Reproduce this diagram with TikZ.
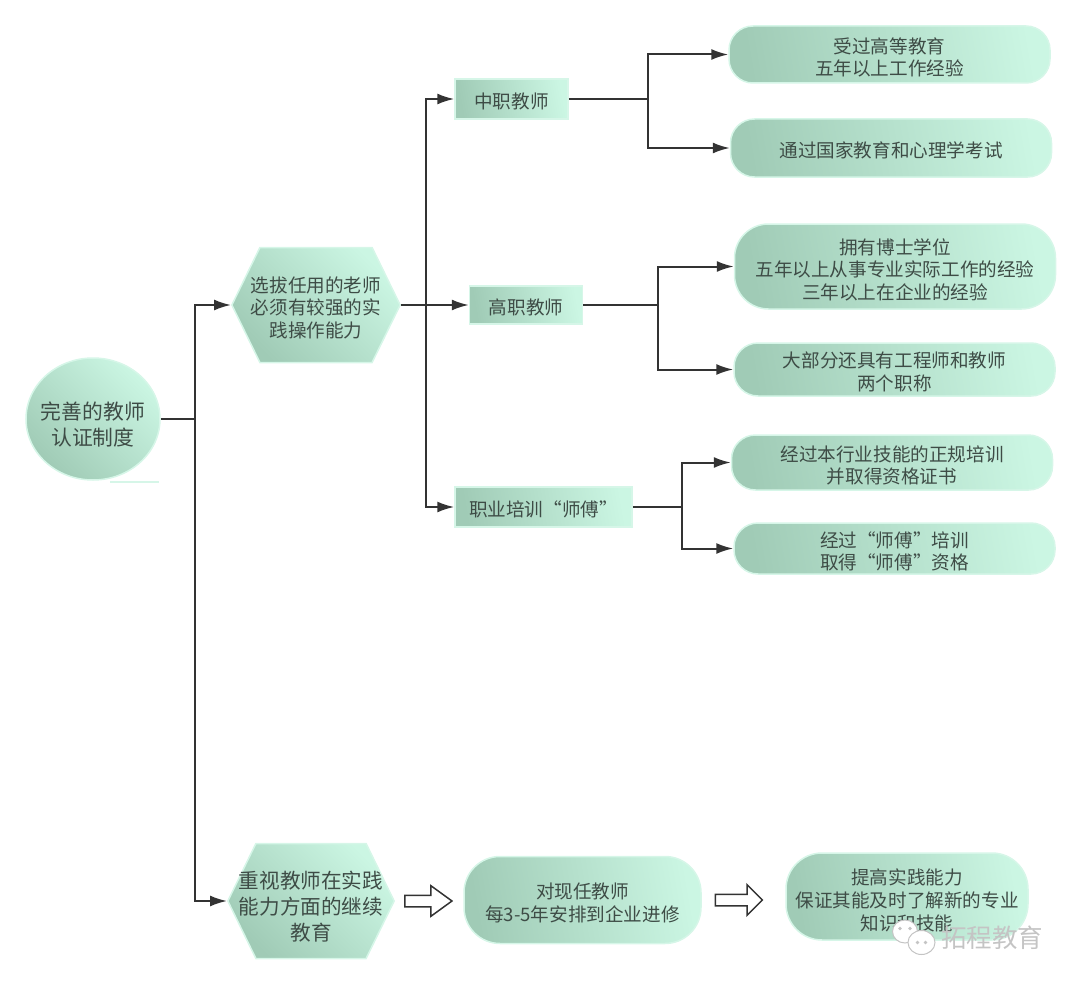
\documentclass[tikz,border=0pt]{standalone}
\usepackage{fontspec}
\setmainfont{Noto Sans CJK SC}
\usetikzlibrary{shapes,arrows,arrows.meta,positioning,calc}
\definecolor{darkgreen}{HTML}{A0CBB6}
\definecolor{lightgreen}{HTML}{CBF6E3}
\definecolor{glowgreen}{HTML}{D6F6E8}
\definecolor{inkgray}{HTML}{3E4C46}
\definecolor{wiregray}{HTML}{333333}
\definecolor{markgray}{HTML}{C4C4C4}
\tikzset{lift/.style={execute at begin node={\rule{0pt}{#1}}}}
\tikzstyle{shaded} = [draw=glowgreen, line width=1.5pt, left color=darkgreen, right color=lightgreen, text=inkgray, align=center, inner sep=0pt, font=\fontsize{18.6}{22.6}\selectfont, lift=20.5pt]
\tikzstyle{rootnode} = [shaded, ellipse, shading angle=135, inner xsep=-5pt, minimum width=134pt, minimum height=122pt, font=\fontsize{20.8}{26}\selectfont, lift=54.3pt]
\tikzstyle{hexa} = [shaded, signal, signal to=west and east, signal pointer angle=128, shading angle=135, minimum height=115pt]
\tikzstyle{tag} = [shaded, rectangle, shading angle=100, minimum height=40pt]
\tikzstyle{pill} = [shaded, rectangle, shading angle=100, rounded corners=24pt, minimum width=321pt]
\tikzstyle{hollow} = [draw=wiregray, line width=1.5pt, fill=white, single arrow, single arrow head extend=9.5pt, single arrow head indent=0pt, inner xsep=0pt, inner ysep=5pt, minimum height=47pt]
\tikzstyle{branch} = [coordinate]
\tikzstyle{wire} = [draw=wiregray, line width=2pt]
\tikzstyle{bubble} = [draw=markgray, line width=1pt, fill=white, ellipse]
\tikzstyle{dot} = [fill=markgray, circle, inner sep=1.3pt]

\begin{document}
\begin{tikzpicture}[auto, >={Latex[length=17pt,width=11pt]}, x=1pt, y=1pt]
    \useasboundingbox (-93,419) rectangle (987,-567);
    % Left side
    \node [rootnode] (root) {完善的教师\\认证制度};
    \node [hexa, right of=root, node distance=223pt, yshift=114pt, inner xsep=-9pt, lift=66.7pt] (select) {选拔任用的老师\\必须有较强的实\\践操作能力};
    \node [hexa, right of=root, node distance=218pt, yshift=-482pt, inner xsep=-17pt, font=\fontsize{20.6}{26}\selectfont, lift=80pt] (train) {重视教师在实践\\能力方面的继续\\教育};
    \node [branch, right of=root, node distance=102pt] (rootjoin) {};
    % Teacher types
    \node [tag, right of=select, node distance=195.5pt, yshift=206pt, minimum width=113pt] (mid) {中职教师};
    \node [tag, right of=select, node distance=210pt, minimum width=113pt, minimum height=38pt] (high) {高职教师};
    \node [tag, right of=select, node distance=227.5pt, yshift=-202pt, minimum width=177pt] (master) {职业培训“师傅”};
    \node [branch, right of=select, node distance=110pt] (selectjoin) {};
    % Requirements
    \node [pill, right of=mid, node distance=378pt, yshift=44.5pt, minimum height=57pt, lift=44pt] (midone) {受过高等教育\\五年以上工作经验};
    \node [pill, right of=mid, node distance=379.5pt, yshift=-49pt, minimum height=58pt] (midtwo) {通过国家教育和心理学考试};
    \node [pill, right of=high, node distance=369pt, yshift=38.5pt, minimum height=85pt, rounded corners=34pt, lift=67.7pt] (highone) {拥有博士学位\\五年以上从事专业实际工作的经验\\三年以上在企业的经验};
    \node [pill, right of=high, node distance=368.5pt, yshift=-64.5pt, minimum height=53pt, lift=43.5pt] (hightwo) {大部分还具有工程师和教师\\两个职称};
    \node [pill, right of=master, node distance=348.5pt, yshift=44.5pt, minimum height=55pt, lift=44pt] (masterone) {经过本行业技能的正规培训\\并取得资格证书};
    \node [pill, right of=master, node distance=351pt, yshift=-41.5pt, minimum height=51pt, lift=44pt] (mastertwo) {经过“师傅”培训\\取得“师傅”资格};
    \node [branch, right of=mid, node distance=136.5pt] (midjoin) {};
    \node [branch, right of=high, node distance=132pt] (highjoin) {};
    \node [branch, right of=master, node distance=138.5pt] (masterjoin) {};
    % Bottom row
    \node [pill, right of=train, node distance=271.5pt, yshift=1pt, minimum width=237pt, minimum height=87pt, rounded corners=36pt, lift=43.5pt] (company) {对现任教师\\每3-5年安排到企业进修};
    \node [pill, right of=company, node distance=324.5pt, yshift=3.5pt, minimum width=242pt, minimum height=87pt, rounded corners=36pt, lift=68.7pt] (ability) {提高实践能力\\保证其能及时了解新的专业\\知识和技能};
    \node [hollow, right of=train, node distance=113.5pt, single arrow tip angle=72] (stepone) {};
    \node [hollow, right of=company, node distance=153.5pt] (steptwo) {};
    % Watermark
    \node [bubble, right of=ability, node distance=-2pt, yshift=-35pt, minimum width=25pt, minimum height=23pt] (bubbleone) {};
    \node [bubble, right of=ability, node distance=14.5pt, yshift=-46pt, minimum width=27pt, minimum height=24pt] (bubbletwo) {};
    \node [dot, left of=bubbleone, node distance=5pt, yshift=3pt] (dotone) {};
    \node [dot, right of=bubbleone, node distance=5pt, yshift=3pt] (dottwo) {};
    \node [dot, left of=bubbletwo, node distance=4pt] (dotthree) {};
    \node [dot, right of=bubbletwo, node distance=4pt] (dotfour) {};
    \node [right of=ability, node distance=85pt, yshift=-41.5pt, text=markgray, font=\fontsize{25.5}{27}\selectfont] (mark) {拓程教育};

    % Connections
    \draw [wire] (root.east) -- (rootjoin);
    \draw [wire, ->] (rootjoin) |- (select.west);
    \draw [wire, ->] (rootjoin) |- (train.west);
    \draw [wire, ->] (select.east) -- (high.west);
    \draw [wire, ->] (selectjoin) |- (mid.west);
    \draw [wire, ->] (selectjoin) |- (master.west);
    \draw [wire] (mid.east) -- (midjoin);
    \draw [wire, ->] (midjoin) |- (midone.west);
    \draw [wire, ->] (midjoin) |- (midtwo.west);
    \draw [wire] (high.east) -- (highjoin);
    \draw [wire, ->] (highjoin) |- (highone.west);
    \draw [wire, ->] (highjoin) |- (hightwo.west);
    \draw [wire] (master.east) -- (masterjoin);
    \draw [wire, ->] (masterjoin) |- (masterone.west);
    \draw [wire, ->] (masterjoin) |- (mastertwo.west);
    \draw [draw=glowgreen, line width=1.5pt] ($(root.south)+(17,-1)$) -- ++(49,0);
\end{tikzpicture}
\end{document}
